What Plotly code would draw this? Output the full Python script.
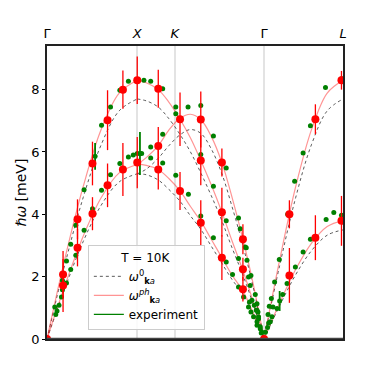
import plotly.graph_objects as go

# High-symmetry path positions and labels
sym_pos = [0.0, 1.0, 1.415, 2.405, 3.28]
sym_lbl = ["Γ", "<i>X</i>", "<i>K</i>", "Γ", "<i>L</i>"]

# ---- model dispersion curves ----
# Gamma-X
gx_x = [0.0, 0.2, 0.4, 0.6, 0.8, 1.0]
gx_LA0 = [0.0, 2.41, 4.53, 6.23, 7.32, 7.70]
gx_LAph = [0.0, 2.60, 4.88, 6.72, 7.89, 8.30]
gx_TA0 = [0.0, 1.64, 3.12, 4.29, 5.04, 5.30]
gx_TAph = [0.0, 1.73, 3.29, 4.53, 5.33, 5.60]
# X-K-Gamma
xg_x = [1.0, 1.1, 1.233, 1.35, 1.474, 1.59, 1.704, 1.82, 1.938, 2.05, 2.171, 2.29, 2.405]
xg_A0 = [7.70, 7.64, 7.44, 7.07, 6.56, 6.00, 5.33, 4.60, 3.79, 2.93, 2.05, 1.07, 0.0]
xg_Aph = [8.30, 8.22, 8.00, 7.60, 7.05, 6.45, 5.73, 4.95, 4.07, 3.15, 2.20, 1.15, 0.0]
xg_B0 = [5.30, 5.45, 5.80, 6.20, 6.55, 6.72, 6.60, 6.10, 5.30, 4.25, 3.00, 1.60, 0.0]
xg_Bph = [5.60, 5.82, 6.20, 6.70, 7.08, 7.21, 7.04, 6.50, 5.66, 4.55, 3.20, 1.70, 0.0]
xg_C0 = [5.30, 5.27, 5.10, 4.80, 4.42, 3.95, 3.52, 2.98, 2.43, 1.91, 1.44, 0.74, 0.0]
xg_Cph = [5.60, 5.57, 5.44, 5.15, 4.75, 4.25, 3.78, 3.20, 2.61, 2.05, 1.55, 0.80, 0.0]
# Gamma-L
gl_x = [2.405, 2.58, 2.755, 2.93, 3.105, 3.28]
gl_LA0 = [0.0, 2.38, 4.53, 6.23, 7.32, 7.70]
gl_LAph = [0.0, 2.56, 4.88, 6.71, 7.89, 8.30]
gl_TA0 = [0.0, 1.08, 2.06, 2.83, 3.33, 3.50]
gl_TAph = [0.0, 1.17, 2.23, 3.07, 3.61, 3.80]

# ---- computed points with error bars (red) ----
ph_x = [0.0, 0.178, 0.178, 0.338, 0.338, 0.504, 0.504, 0.671, 0.671, 0.841, 0.841, 1.0, 1.0,
        1.233, 1.233, 1.233, 1.474, 1.474, 1.704, 1.704, 1.704, 1.938, 1.938, 1.938,
        2.171, 2.171, 2.171, 2.405, 2.686, 2.686, 2.974, 2.974, 3.263, 3.263]
ph_y = [0.0, 2.07, 1.72, 3.84, 2.93, 4.02, 5.63, 7.02, 4.93, 8.00, 5.44, 8.30, 5.66,
        8.03, 6.19, 5.44, 7.05, 4.75, 7.04, 5.73, 3.73, 5.66, 4.07, 2.61,
        3.20, 2.24, 1.60, 0.0, 4.00, 2.04, 7.05, 3.25, 8.30, 3.79]
ph_err = [0.0, 0.75, 0.85, 0.64, 0.60, 0.53, 0.70, 0.96, 0.70, 0.61, 0.85, 0.76, 0.82,
          0.61, 0.61, 0.64, 0.86, 0.61, 0.90, 0.80, 0.72, 0.45, 0.78, 0.72,
          0.48, 0.37, 0.40, 0.0, 0.45, 0.88, 0.48, 0.72, 0.30, 0.80]

# ---- experiment (green) ----
exp_x = [0.086, 0.111, 0.097, 0.133, 0.160, 0.171, 0.216, 0.171, 0.216, 0.263, 0.263, 0.319, 0.319,
         0.411, 0.411, 0.504, 0.604, 0.604, 0.704, 0.704, 0.807, 0.807, 0.902, 0.902, 0.956,
         1.0, 1.0, 1.049, 1.074, 1.149, 1.149, 1.149, 1.282, 1.282, 1.282,
         1.427, 1.427, 1.563, 1.704, 1.427, 1.567, 1.704, 1.844, 1.844, 1.986, 1.704, 1.986,
         1.844, 2.122, 2.208, 2.122, 1.986, 2.056, 2.141, 2.197, 2.122, 2.216, 2.233, 2.252,
         2.308, 2.271, 2.297, 2.327, 2.289, 2.344, 2.327, 2.363, 2.382, 2.260, 2.178, 2.244,
         2.233, 2.260, 2.319, 2.344, 2.327, 2.363, 2.374, 2.338, 2.327,
         2.420, 2.444, 2.449, 2.456, 2.474, 2.463, 2.486, 2.493, 2.504, 2.522, 2.549, 2.574,
         2.611, 2.660, 2.667, 2.744, 2.752, 2.838, 2.838, 2.919, 2.919, 3.093, 3.086, 3.178,
         3.263, 3.263]
exp_y = [1.03, 0.90, 0.79, 1.08, 1.35, 1.58, 1.80, 1.88, 2.50, 2.23, 3.04, 2.69, 3.65,
         3.49, 4.79, 4.18, 4.77, 6.86, 5.27, 7.44, 5.63, 7.98, 5.84, 8.27, 5.90,
         5.95, 8.30, 5.95, 8.30, 8.27, 6.16, 5.81, 8.03, 6.57, 5.65,
         7.44, 7.23, 7.44, 7.49, 5.25, 4.64, 5.92, 6.51, 4.90, 5.49, 3.95, 3.79,
         3.25, 3.88, 2.93, 2.58, 2.47, 2.07, 3.54, 2.95, 1.67, 2.53, 1.99, 1.72,
         1.43, 1.24, 1.08, 0.92, 0.71, 0.71, 0.55, 0.39, 0.22, 2.04, 1.35, 1.19,
         1.03, 0.87, 0.92, 0.65, 0.44, 0.33, 0.19, 0.87, 1.13,
         0.22, 0.37, 0.79, 0.51, 0.55, 1.05, 1.30, 0.71, 1.03, 1.83, 0.98, 2.55,
         1.43, 1.78, 4.00, 5.06, 2.31, 5.97, 2.79, 6.84, 3.20, 3.83, 8.07, 4.06,
         3.97, 8.35]
# experiment points drawn with error bars
expe_x = [0.533, 1.03, 2.578]
expe_y = [5.86, 5.95, 1.22]
expe_err = [0.43, 0.69, 0.32]

RED_LINE = "rgba(255,0,0,0.42)"
GRAY_DOT = "rgba(50,50,50,0.8)"

fig = go.Figure()

bare_curves = [(gx_x, gx_LA0), (gx_x, gx_TA0), (xg_x, xg_A0), (xg_x, xg_B0), (xg_x, xg_C0),
               (gl_x, gl_LA0), (gl_x, gl_TA0)]
ph_curves = [(gx_x, gx_LAph), (gx_x, gx_TAph), (xg_x, xg_Aph), (xg_x, xg_Bph), (xg_x, xg_Cph),
             (gl_x, gl_LAph), (gl_x, gl_TAph)]

lbl0 = "<i>ω</i><sup>0</sup><sub><b>k</b><i>a</i></sub>"
lblph = "<i>ω</i><sup><i>ph</i></sup><sub><b>k</b><i>a</i></sub>"

for i, (xs, ys) in enumerate(bare_curves):
    fig.add_trace(go.Scatter(x=xs, y=ys, mode="lines", line=dict(color=GRAY_DOT, width=1, dash="dot",
                                                                 shape="spline", smoothing=1.0),
                             name=lbl0, showlegend=(i == 0), legendrank=2, hoverinfo="skip"))
for i, (xs, ys) in enumerate(ph_curves):
    fig.add_trace(go.Scatter(x=xs, y=ys, mode="lines", line=dict(color=RED_LINE, width=1.2,
                                                                 shape="spline", smoothing=1.0),
                             name=lblph, showlegend=(i == 0), legendrank=3, hoverinfo="skip"))

fig.add_trace(go.Scatter(x=exp_x, y=exp_y, mode="markers",
                         marker=dict(color="green", size=5), showlegend=False))
fig.add_trace(go.Scatter(x=expe_x, y=expe_y, mode="markers",
                         marker=dict(color="green", size=5),
                         error_y=dict(type="data", array=expe_err, color="green", thickness=1.8, width=0),
                         showlegend=False))
fig.add_trace(go.Scatter(x=ph_x, y=ph_y, mode="markers",
                         marker=dict(color="red", size=8),
                         error_y=dict(type="data", array=ph_err, color="red", thickness=1.3, width=0),
                         showlegend=False))
# legend entry for the experiment
fig.add_trace(go.Scatter(x=[None], y=[None], mode="lines", line=dict(color="green", width=1.2),
                         name="experiment", legendrank=4))

fig.add_shape(type="line", xref="x", yref="y", x0=0, x1=3.28, y0=0, y1=0,
              line=dict(color="#444", width=2.5))

# y-axis title placed as a rotated annotation left of the tick labels
fig.add_annotation(text="ℏ<i>ω</i> [meV]", xref="paper", yref="paper", x=-0.088, y=0.5,
                   xanchor="center", yanchor="middle", textangle=-90, showarrow=False,
                   font=dict(size=14, family="DejaVu Sans", color="black"))

# page body has an 8px margin: figure is sized/margined so the plot area lands at
# x 47..343, y 46..339 in the 381x381 window
fig.update_layout(
    width=365, height=365,
    margin=dict(l=39, r=30, t=38, b=34, autoexpand=False),
    plot_bgcolor="white", paper_bgcolor="white",
    font=dict(family="DejaVu Sans", color="black"),
    xaxis=dict(range=[0, 3.28], side="top", tickmode="array", tickvals=sym_pos, ticktext=sym_lbl,
               ticks="", showgrid=True, gridcolor="#e3e3e3", gridwidth=1.5, zeroline=False,
               showline=True, linecolor="#222", linewidth=1.5, mirror=True,
               tickfont=dict(size=13), ticklabelstandoff=1),
    yaxis=dict(range=[0, 9.4], tickmode="array", tickvals=[0, 2, 4, 6, 8],
               ticks="outside", ticklen=3, tickwidth=1, tickcolor="black",
               showgrid=False, zeroline=False, showline=True, linecolor="#222", linewidth=1.5,
               mirror=True, tickfont=dict(size=13), ticklabelstandoff=0),
    legend=dict(x=0.138, y=0.32, xanchor="left", yanchor="top",
                bgcolor="rgba(255,255,255,0.85)", bordercolor="#cccccc", borderwidth=1,
                font=dict(size=12), title=dict(text="T = 10K", side="top center", font=dict(size=12)),
                tracegroupgap=0, itemwidth=30),
)

fig.write_html("out.html")
